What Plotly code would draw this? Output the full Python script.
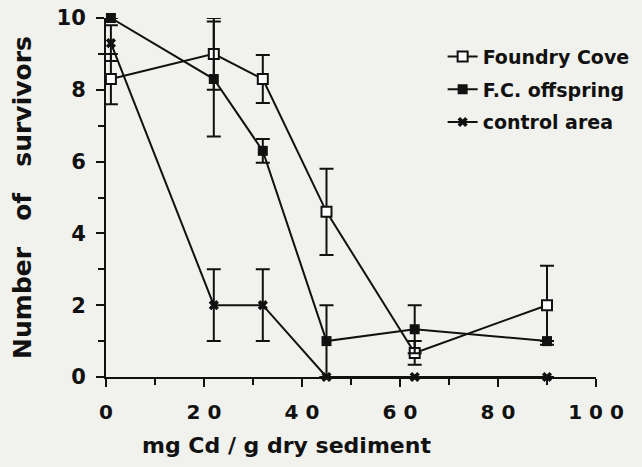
import plotly.graph_objects as go

# mg Cd / g dry sediment
conc = [1, 22, 32, 45, 63, 90]

foundry = [8.3, 9.0, 8.3, 4.6, 0.67, 2.0]
foundry_err = [0.7, 1.0, 0.67, 1.2, 0.33, 1.1]

offspring = [10.0, 8.3, 6.3, 1.0, 1.33, 1.0]
offspring_err = [0.0, 1.6, 0.33, 1.0, 0.67, 0.0]

control = [9.3, 2.0, 2.0, 0.0, 0.0, 0.0]
control_err = [0.5, 1.0, 1.0, 0.0, 0.0, 0.0]

x_ticks = [0, 20, 40, 60, 80, 100]
x_ticktext = ["0", "2 0", "4 0", "6 0", "8 0", "1 0 0"]
y_ticks = [0, 2, 4, 6, 8, 10]

bg = "#f1f1ed"
ink = "#111111"
fam = "DejaVu Sans, Liberation Sans, Arial, sans-serif"

fig = go.Figure()

series = [
    ("Foundry Cove", foundry, foundry_err,
     dict(symbol="square", size=10, color="white", line=dict(width=2, color=ink))),
    ("F.C. offspring", offspring, offspring_err,
     dict(symbol="square", size=10, color=ink)),
    ("control area", control, control_err,
     dict(symbol="x", size=9, color=ink)),
]

for name, vals, err, marker in series:
    fig.add_trace(go.Scatter(
        x=conc, y=vals, name=name, legendgroup=name, mode="lines+markers",
        line=dict(color=ink, width=2),
        marker=marker,
        error_y=dict(type="data", array=err, visible=True, color=ink, thickness=2, width=7),
        cliponaxis=False,
    ))

fig.update_layout(
    width=642, height=467,
    paper_bgcolor=bg, plot_bgcolor=bg,
    margin=dict(l=106, r=46, t=18, b=90, autoexpand=False),
    font=dict(family=fam, color=ink),
    legend=dict(
        x=0.687, y=0.945, xanchor="left", yanchor="top",
        bgcolor="rgba(0,0,0,0)", borderwidth=0,
        font=dict(size=19, weight="bold"),
        tracegroupgap=5,
    ),
    showlegend=True,
)

# x title sits left of centre in the original
fig.add_annotation(
    text="mg Cd / g dry sediment", xref="paper", yref="paper",
    x=0.369, y=-0.19, xanchor="center", yanchor="middle",
    showarrow=False, font=dict(size=22, weight="bold"),
)

fig.update_xaxes(
    range=[0, 100], tickvals=x_ticks, ticktext=x_ticktext,
    automargin=False,
    showgrid=False, zeroline=False,
    showline=True, linecolor=ink, linewidth=2,
    ticks="outside", ticklen=8, tickwidth=2, tickcolor=ink,
    minor=dict(tickvals=[10, 30, 50, 70, 90], ticks="outside", ticklen=6, tickwidth=2, tickcolor=ink),
    tickfont=dict(size=20, weight="bold"),
    ticklabelstandoff=8,
)

fig.update_yaxes(
    range=[0, 10], tickvals=y_ticks,
    automargin=False,
    showgrid=False, zeroline=False,
    showline=True, linecolor=ink, linewidth=2,
    ticks="outside", ticklen=8, tickwidth=2, tickcolor=ink,
    minor=dict(tickvals=[1, 3, 5, 7, 9], ticks="outside", ticklen=6, tickwidth=2, tickcolor=ink),
    tickfont=dict(size=21, weight="bold"),
    ticklabelstandoff=6,
    title=dict(text="Number\u00a0\u00a0 of\u00a0\u00a0 survivors",
               font=dict(size=25, weight="bold"), standoff=18),
)

# page body has an 8px default margin; drop it so the figure sits at 0,0
fig.write_html("out.html", config={"displayModeBar": False},
               post_script="document.body.style.margin='0';")
